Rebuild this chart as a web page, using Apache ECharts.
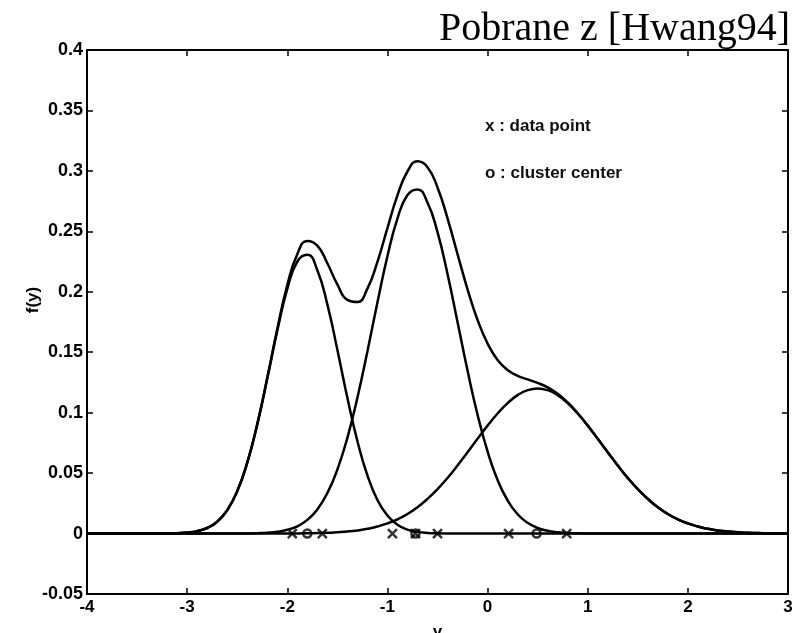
<!DOCTYPE html>
<html lang="pl">
<head>
    <meta charset="UTF-8">
    <title>f(y)</title>
    <style>
        html, body {
            margin: 0;
            background: #fff;
        }

        #main {
            width: 804px;
            height: 633px;
        }
    </style>
</head>
<body>
<div id="main"></div>
<script src="https://cdn.jsdelivr.net/npm/echarts@6/dist/echarts.min.js"></script>
<script>
    // sample positions along y
    const xs = [-4.0,
        -3.2, -3.1, -3.0, -2.9, -2.8, -2.7, -2.6, -2.5, -2.4, -2.3,
        -2.2, -2.1, -2.0, -1.9, -1.8, -1.7, -1.6, -1.5, -1.4, -1.3,
        -1.2, -1.1, -1.0, -0.9, -0.8, -0.7, -0.6, -0.5, -0.4, -0.3,
        -0.2, -0.1, 0.0, 0.1, 0.2, 0.3, 0.4, 0.5, 0.6, 0.7,
        0.8, 0.9, 1.0, 1.1, 1.2, 1.3, 1.4, 1.5, 1.6, 1.7,
        1.8, 1.9, 2.0, 2.1, 2.2, 2.3, 2.4, 2.5, 2.6, 2.7,
        2.8, 2.9, 3.0]

    // left cluster
    const cluster1 = [0,
        0.0001, 0.0003, 0.0008, 0.0020, 0.0046, 0.0098, 0.0193, 0.0350, 0.0585, 0.0902,
        0.1281, 0.1677, 0.2024, 0.2250, 0.2306, 0.2178, 0.1896, 0.1521, 0.1124, 0.0766,
        0.0481, 0.0278, 0.0149, 0.0073, 0.0033, 0.0014, 0.0005, 0.0002, 0.0001, 0,
        0, 0, 0, 0, 0, 0, 0, 0, 0, 0,
        0, 0, 0, 0, 0, 0, 0, 0, 0, 0,
        0, 0, 0, 0, 0, 0, 0, 0, 0, 0,
        0, 0, 0]

    // middle cluster
    const cluster2 = [0,
        0, 0, 0, 0, 0, 0, 0, 0, 0.0001, 0.0003,
        0.0007, 0.0015, 0.0031, 0.0060, 0.0113, 0.0200, 0.0334, 0.0529, 0.0792, 0.1123,
        0.1506, 0.1911, 0.2294, 0.2606, 0.2800, 0.2847, 0.2739, 0.2493, 0.2147, 0.1749,
        0.1348, 0.0983, 0.0679, 0.0443, 0.0274, 0.0160, 0.0089, 0.0046, 0.0023, 0.0011,
        0.0005, 0.0002, 0.0001, 0, 0, 0, 0, 0, 0, 0,
        0, 0, 0, 0, 0, 0, 0, 0, 0, 0,
        0, 0, 0]

    // right cluster
    const cluster3 = [0,
        0, 0, 0, 0, 0, 0, 0, 0, 0, 0,
        0, 0, 0.0001, 0.0001, 0.0002, 0.0004, 0.0006, 0.0011, 0.0017, 0.0026,
        0.0039, 0.0058, 0.0084, 0.0118, 0.0162, 0.0218, 0.0287, 0.0368, 0.0460, 0.0563,
        0.0672, 0.0784, 0.0893, 0.0993, 0.1079, 0.1145, 0.1186, 0.1200, 0.1186, 0.1145,
        0.1079, 0.0993, 0.0893, 0.0784, 0.0672, 0.0563, 0.0460, 0.0368, 0.0287, 0.0218,
        0.0162, 0.0118, 0.0084, 0.0058, 0.0039, 0.0026, 0.0017, 0.0011, 0.0006, 0.0004,
        0.0002, 0.0001, 0.0001]

    // whole density
    const total = [0,
        0.0001, 0.0003, 0.0008, 0.0020, 0.0046, 0.0098, 0.0193, 0.0350, 0.0586, 0.0905,
        0.1288, 0.1692, 0.2056, 0.2311, 0.2421, 0.2382, 0.2236, 0.2061, 0.1933, 0.1915,
        0.2026, 0.2247, 0.2527, 0.2797, 0.2995, 0.3079, 0.3031, 0.2863, 0.2608, 0.2312,
        0.2020, 0.1767, 0.1572, 0.1436, 0.1353, 0.1305, 0.1275, 0.1246, 0.1209, 0.1156,
        0.1084, 0.0995, 0.0894, 0.0784, 0.0672, 0.0563, 0.0460, 0.0368, 0.0287, 0.0218,
        0.0162, 0.0118, 0.0084, 0.0058, 0.0039, 0.0026, 0.0017, 0.0011, 0.0006, 0.0004,
        0.0002, 0.0001, 0.0001]

    const dataPoints = [-1.95, -1.65, -0.95, -0.72, -0.50, 0.21, 0.79]
    const centers = [-1.80, -0.72, 0.49]

    const font = 'Liberation Sans'

    function pairs(ys) {
        return xs.map((x, i) => [x, ys[i]])
    }

    function curve(name, ys) {
        return {
            name: name,
            type: 'line',
            data: pairs(ys),
            smooth: true,
            symbol: 'none',
            lineStyle: {color: '#000', width: 2.5},
            z: 2
        }
    }

    const frameAxis = {
        axisLine: {show: true, onZero: false, lineStyle: {color: '#000', width: 2}},
        axisTick: {show: true, inside: true, length: 6, lineStyle: {color: '#000', width: 1.5}},
        splitLine: {show: false}
    }

    let myChart = echarts.init(document.querySelector('#main'))
    let option = {
        animation: false,
        grid: {left: 87, right: 16, top: 50, bottom: 39, outerBoundsMode: 'none', containLabel: false},
        xAxis: [
            Object.assign({
                type: 'value', min: -4, max: 3, interval: 1, position: 'bottom',
                axisLabel: {color: '#000', fontSize: 17, fontWeight: 'bold', fontFamily: font, margin: 5},
                name: 'y', nameLocation: 'middle', nameGap: 30,
                nameTextStyle: {color: '#000', fontSize: 17, fontWeight: 'bold', fontFamily: font}
            }, frameAxis),
            Object.assign({
                type: 'value', min: -4, max: 3, interval: 1, position: 'top',
                axisLabel: {show: false}
            }, frameAxis)
        ],
        yAxis: [
            Object.assign({
                type: 'value', min: -0.05, max: 0.4, interval: 0.05, position: 'left',
                axisLabel: {color: '#000', fontSize: 18, fontWeight: 'bold', fontFamily: font, margin: 4}
            }, frameAxis),
            Object.assign({
                type: 'value', min: -0.05, max: 0.4, interval: 0.05, position: 'right',
                axisLabel: {show: false}
            }, frameAxis)
        ],
        graphic: [
            {
                type: 'text', right: 14, top: 9,
                style: {text: 'Pobrane z [Hwang94]', fontSize: 40, fontFamily: 'Liberation Serif', fill: '#000'}
            },
            {
                type: 'text', left: 485, top: 118,
                style: {text: 'x : data point', fontSize: 17, fontWeight: 'bold', fontFamily: font, fill: '#111'}
            },
            {
                type: 'text', left: 485, top: 165,
                style: {text: 'o : cluster center', fontSize: 17, fontWeight: 'bold', fontFamily: font, fill: '#111'}
            },
            {
                type: 'text', x: 33, y: 300, rotation: Math.PI / 2,
                style: {
                    text: 'f(y)', fontSize: 17, fontWeight: 'bold', fontFamily: font, fill: '#000',
                    align: 'center', verticalAlign: 'middle'
                }
            }
        ],
        series: [
            curve('total', total),
            curve('cluster1', cluster1),
            curve('cluster2', cluster2),
            curve('cluster3', cluster3),
            {
                name: 'data point',
                type: 'scatter',
                data: dataPoints.map(x => [x, 0]),
                symbol: 'path://M0,0L10,10M10,0L0,10',
                symbolSize: 9,
                itemStyle: {color: 'transparent', borderColor: '#000', borderWidth: 2.5},
                z: 5
            },
            {
                name: 'cluster center',
                type: 'scatter',
                data: centers.map(x => [x, 0]),
                symbol: 'circle',
                symbolSize: 8,
                itemStyle: {color: 'transparent', borderColor: '#000', borderWidth: 2.5},
                z: 5
            }
        ]
    }
    myChart.setOption(option)
</script>
</body>
</html>
